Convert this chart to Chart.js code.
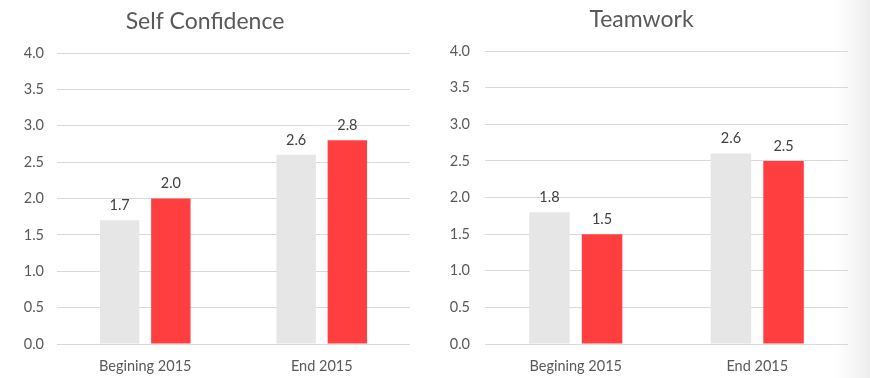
<!DOCTYPE html>
<html>
<head>
<meta charset="utf-8">
<script src="https://cdn.jsdelivr.net/npm/chart.js@4.4.0/dist/chart.umd.min.js"></script>
<style>
  html, body { margin: 0; padding: 0; }
  body {
    width: 870px; height: 378px; overflow: hidden; position: relative;
    background: linear-gradient(to right, #ffffff 0px, #ffffff 835px, #f2f2f2 862px, #ededed 870px);
  }
  .box { position: absolute; top: 0; height: 378px; }
</style>
</head>
<body>
<div class="box" id="leftBox" style="left:0; width:438px;"><canvas id="selfConfidence"></canvas></div>
<div class="box" id="rightBox" style="left:435px; width:434px;"><canvas id="teamwork"></canvas></div>
<script>
// categories and values
const categories = ['Begining 2015', 'End 2015'];
const yTicks = [0, 0.5, 1, 1.5, 2, 2.5, 3, 3.5, 4];

const selfConfidenceGrey = [1.7, 2.6];
const selfConfidenceRed = [2.0, 2.8];

const teamworkGrey = [1.8, 2.6];
const teamworkRed = [1.5, 2.5];

const GREY = '#E7E6E6';
const RED = '#FF3F3F';
const TEXT = '#595959';
const FONT = 'Lato, "Open Sans", sans-serif';

// draws the value above each bar
const valueLabels = {
    id: 'valueLabels',
    afterDatasetsDraw(chart) {
        const ctx = chart.ctx;
        ctx.save();
        ctx.fillStyle = '#404040';
        ctx.font = '14.5px ' + FONT;
        ctx.textAlign = 'center';
        ctx.textBaseline = 'middle';
        chart.data.datasets.forEach((ds, i) => {
            chart.getDatasetMeta(i).data.forEach((bar, j) => {
                ctx.fillText(ds.data[j].toFixed(1), bar.x, bar.y - 15);
            });
        });
        ctx.restore();
    }
};

function makeChart(id, title, grey, red, opts) {
    return new Chart(document.getElementById(id), {
        type: 'bar',
        data: {
            labels: categories,
            datasets: [
                { data: grey, backgroundColor: GREY },
                { data: red, backgroundColor: RED }
            ]
        },
        plugins: [valueLabels],
        options: {
            responsive: true,
            maintainAspectRatio: false,
            animation: false,
            categoryPercentage: 0.58,
            barPercentage: 0.77,
            layout: { padding: { left: 0, right: opts.padRight, top: 0, bottom: 0 } },
            plugins: {
                legend: { display: false },
                tooltip: { enabled: false },
                title: {
                    display: true,
                    text: title,
                    color: TEXT,
                    font: { family: FONT, size: 23, weight: 'normal' },
                    padding: { top: opts.titleTop, bottom: opts.titleBottom }
                }
            },
            scales: {
                x: {
                    grid: { display: false },
                    border: { display: false },
                    ticks: {
                        color: TEXT,
                        font: { family: FONT, size: 14.5 },
                        padding: 6
                    },
                    afterFit(scale) { scale.height = 34; }
                },
                y: {
                    min: 0,
                    max: 4,
                    afterBuildTicks(scale) { scale.ticks = yTicks.map(v => ({ value: v })); },
                    grid: { color: '#D9D9D9', drawTicks: false },
                    border: { display: false },
                    ticks: {
                        color: TEXT,
                        font: { family: FONT, size: 14.5 },
                        padding: opts.tickPad,
                        callback: v => v.toFixed(1)
                    },
                    afterFit(scale) { scale.width = opts.axisWidth; }
                }
            }
        }
    });
}

makeChart('selfConfidence', 'Self Confidence', selfConfidenceGrey, selfConfidenceRed,
    { padRight: 28, axisWidth: 57, tickPad: 13, titleTop: 8, titleBottom: 17.4 });
makeChart('teamwork', 'Teamwork', teamworkGrey, teamworkRed,
    { padRight: 21, axisWidth: 50, tickPad: 15, titleTop: 6, titleBottom: 17.4 });
</script>
</body>
</html>
